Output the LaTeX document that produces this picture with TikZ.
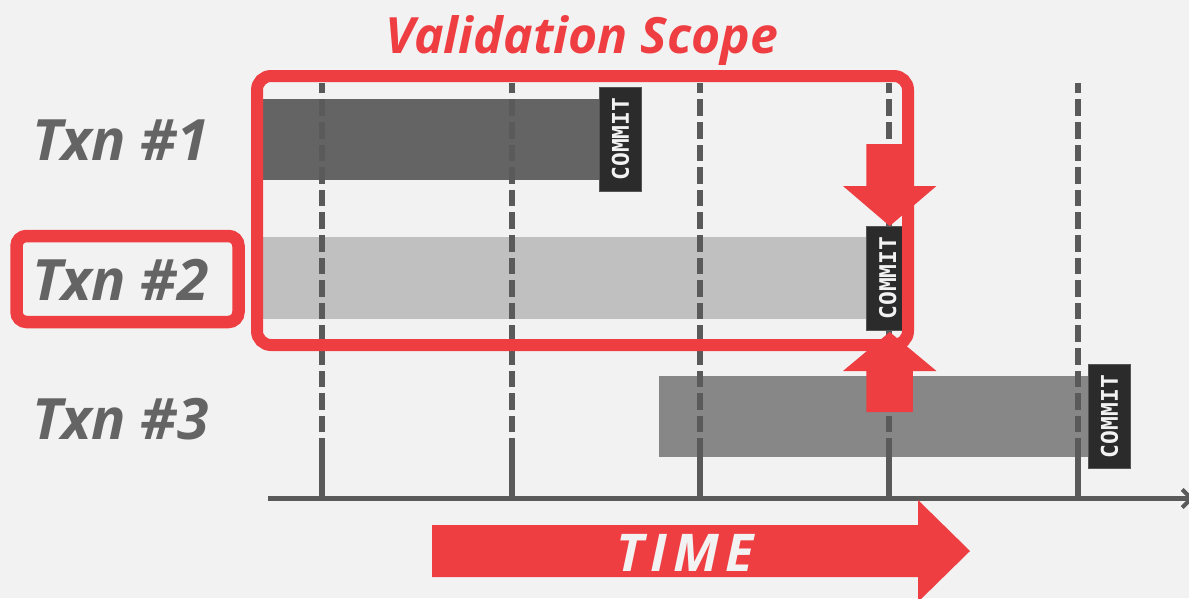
\documentclass[tikz,border=0pt]{standalone}
\usepackage{fontspec}
\setmainfont{Open Sans}
\newfontfamily\commitfont{DejaVu Sans Mono}
\usetikzlibrary{arrows.meta,calc}
\definecolor{bg}{HTML}{F2F2F2}
\definecolor{accent}{HTML}{EF3E42}
\definecolor{txnA}{HTML}{646464}
\definecolor{txnB}{HTML}{C0C0C0}
\definecolor{txnC}{HTML}{878787}
\definecolor{gridc}{HTML}{5A5A5A}
\definecolor{commitfill}{HTML}{2B2B2B}
\definecolor{commitedge}{HTML}{555555}
\definecolor{labelc}{HTML}{646464}

\begin{document}
\begin{tikzpicture}[x=1pt,y=-1pt,
  txnbar/.style={draw=none, inner sep=0pt, outer sep=0pt, anchor=north west},
  commitbox/.style={fill=commitfill, draw=commitedge, line width=1pt,
    inner sep=0pt, outer sep=0pt, minimum width=42pt, minimum height=104pt,
    text=bg, font=\commitfont\bfseries\fontsize{23}{23}\selectfont},
  gridline/.style={gridc, line width=5.7pt, dash pattern=on 16.6pt off 6pt},
  tickline/.style={gridc, line width=5.7pt},
  redframe/.style={draw=accent, line width=12pt, inner sep=0pt, outer sep=0pt,
    anchor=north west},
  txnlabel/.style={anchor=base west, inner sep=0pt, text=labelc,
    font=\bfseries\itshape\fontsize{57}{57}\selectfont},
]
% page and background
\useasboundingbox[fill=bg] (0,0) rectangle (1189,598);

% transaction bars
\node[txnbar, fill=txnA, minimum width=338pt, minimum height=81pt] (bar1) at (262,99) {};
\node[txnbar, fill=txnB, minimum width=606pt, minimum height=82pt] (bar2) at (262,237) {};
\node[txnbar, fill=txnC, minimum width=431pt, minimum height=81pt] (bar3) at (659,376) {};

% time grid: dashed guides with a solid foot on the axis
\foreach \gx [count=\i] in {322,512,700,889,1078} {
  \coordinate (gtop\i) at (\gx,83);
  \coordinate (gfoot\i) at (\gx,455);
  \coordinate (gbase\i) at (\gx,497);
  \draw[gridline] (gfoot\i) -- (gtop\i);
  \draw[tickline] (gfoot\i) -- (gbase\i);
}

% time axis
\coordinate (axstart) at (268,498.5);
\coordinate (axend) at (1194,498.5);
\draw[gridc, line width=5pt, -{Straight Barb[length=9pt,width=18pt,line width=4pt]}] (axstart) -- (axend);

% commit markers
\node[commitbox] (c1) at (620.5,139) {\rotatebox{90}{COMMIT}};
\node[commitbox] (c2) at (887.7,278) {\rotatebox{90}{COMMIT}};
\node[commitbox] (c3) at (1109.5,416.5) {\rotatebox{90}{COMMIT}};

% validation scope frame
\node[redframe, rounded corners=14pt, minimum width=651pt, minimum height=269pt] (scope) at (257,76) {};
% highlighted label frame
\node[redframe, line width=12.5pt, rounded corners=10pt, minimum width=222pt, minimum height=86pt] (hl) at (16.5,236) {};

% block arrows pointing at the second commit
\coordinate (dtip) at ($(c2.north)+(2,0)$);
\fill[accent] (dtip) -- ++(-46.75,-40) -- ++(23.5,0) -- ++(0,-42) -- ++(46.5,0)
  -- ++(0,42) -- ++(23.5,0) -- cycle;
\coordinate (utip) at ($(c2.south)+(2,2)$);
\fill[accent] (utip) -- ++(-46.75,39) -- ++(23.5,0) -- ++(0,41) -- ++(46.5,0)
  -- ++(0,-41) -- ++(23.5,0) -- cycle;

% TIME arrow
\fill[accent] (432,525) -- (918,525) -- (918,500) -- (970,551) -- (918,602)
  -- (918,577) -- (432,577) -- cycle;
\node[anchor=base, inner sep=0pt, text=bg,
  font=\bfseries\itshape\addfontfeature{LetterSpace=12}\fontsize{52}{52}\selectfont]
  (time) at (685,571) {TIME};

% labels
\node[txnlabel] (l1) at (32,160) {Txn \#1};
\node[txnlabel] (l2) at (32,300) {Txn \#2};
\node[txnlabel] (l3) at (32,439) {Txn \#3};
\node[anchor=base, inner sep=0pt, text=accent,
  font=\bfseries\itshape\fontsize{50}{50}\selectfont]
  (title) at (582,53) {Validation Scope};
\end{tikzpicture}
\end{document}
